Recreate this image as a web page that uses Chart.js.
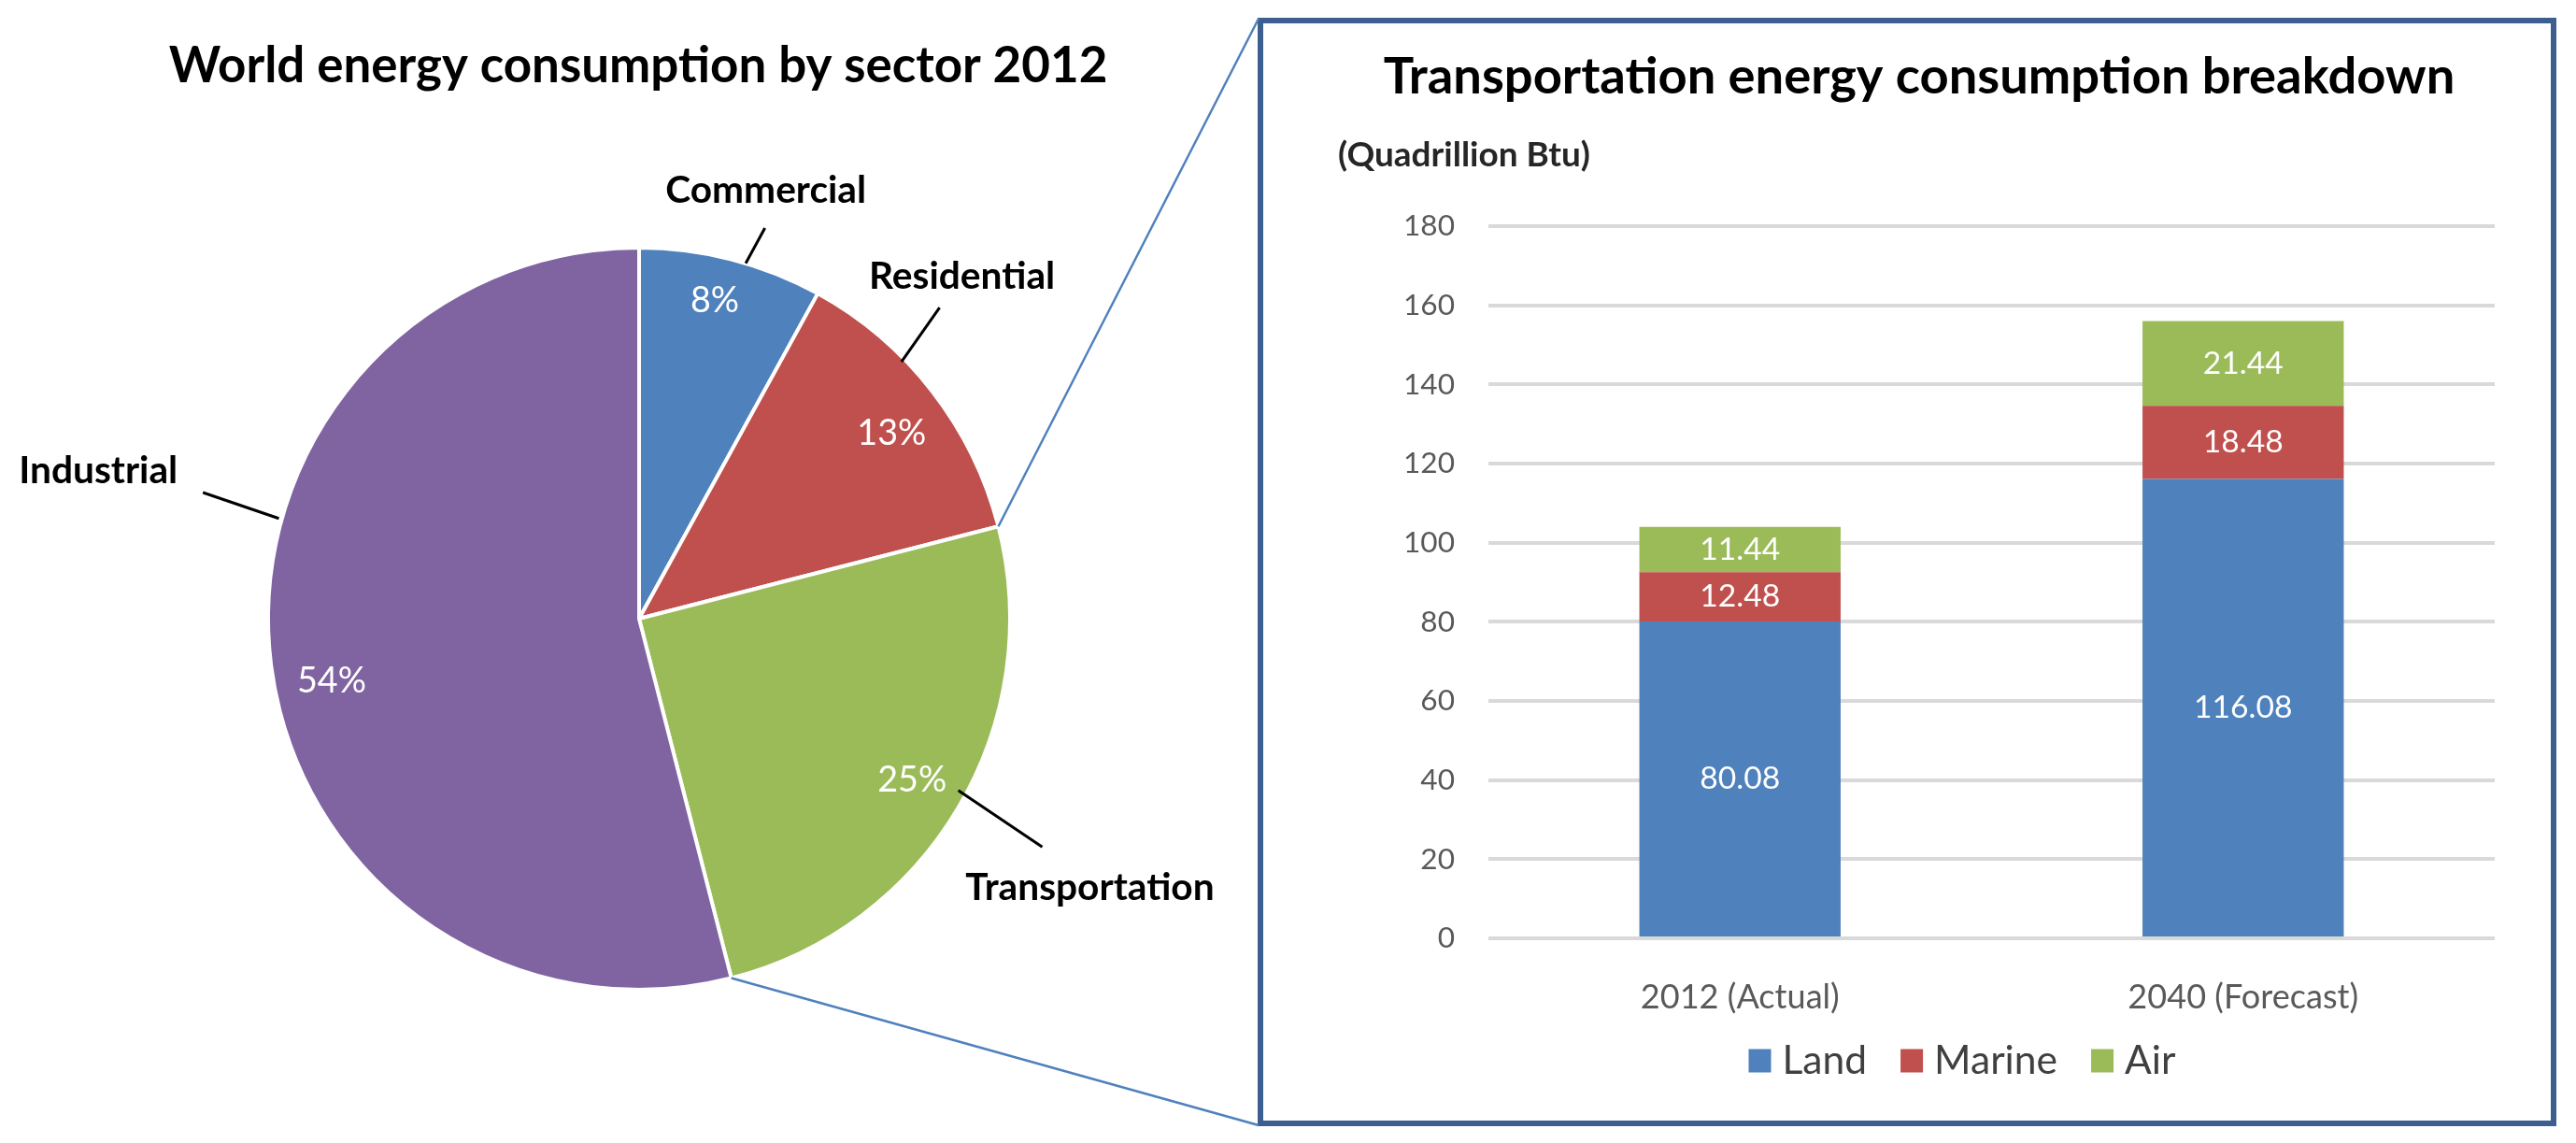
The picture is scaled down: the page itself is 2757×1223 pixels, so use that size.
<!DOCTYPE html>
<html>
<head>
<meta charset="utf-8">
<script src="https://cdn.jsdelivr.net/npm/chart.js@4.4.1/dist/chart.umd.min.js"></script>
<style>
html,body{margin:0;padding:0;background:#ffffff;overflow:hidden;}
#wrap{position:relative;width:2757px;height:1223px;background:#ffffff;}
canvas{position:absolute;left:0;top:0;}
#box{position:absolute;left:1346px;top:19px;width:1390px;height:1186px;border:6px solid #3C5F8F;box-sizing:border-box;}
</style>
</head>
<body>
<div id="wrap">
  <div id="box"></div>
  <canvas id="pie" width="2757" height="1223"></canvas>
  <canvas id="bar" width="2757" height="1223"></canvas>
</div>
<script>
// ---------------- DATA ----------------
const pieTitle = 'World energy consumption by sector 2012';
const sectorLabels = ['Commercial', 'Residential', 'Transportation', 'Industrial'];
const sectorShares = [8, 13, 25, 54];

const barTitle = 'Transportation energy consumption breakdown';
const unitLabel = '(Quadrillion Btu)';
const barCategories = ['2012 (Actual)', '2040 (Forecast)'];
const seriesNames = ['Land', 'Marine', 'Air'];
const landValues = [80.08, 116.08];
const marineValues = [12.48, 18.48];
const airValues = [11.44, 21.44];
const yTickValues = [0, 20, 40, 60, 80, 100, 120, 140, 160, 180];

// ---------------- STYLE ----------------
const FAMILY = 'Lato, "Open Sans", sans-serif';
const COLORS = { blue: '#4F81BD', red: '#C0504D', green: '#9BBB59', purple: '#8064A2' };
const sectorColors = [COLORS.blue, COLORS.red, COLORS.green, COLORS.purple];
const seriesColors = [COLORS.blue, COLORS.red, COLORS.green];

const mctx = document.createElement('canvas').getContext('2d');
function fitSize(text, weight, target) {
  mctx.font = weight + ' 100px ' + FAMILY;
  return 100 * target / mctx.measureText(text).width;
}
const SZ = {
  title: fitSize(pieTitle, 'bold', 1005),
  title2: fitSize(barTitle, 'bold', 1147),
  sector: fitSize('Commercial', 'bold', 215),
  pct: fitSize('13%', 'normal', 74),
  unit: fitSize(unitLabel, 'bold', 270),
  ytick: fitSize('180', 'normal', 55),
  xtick: fitSize('2012 (Actual)', 'normal', 213),
  value: fitSize('11.44', 'normal', 86),
  legend: fitSize('Marine', 'normal', 132)
};

// pie layout (relative to the arcs produced by Chart.js)
const PIE_R = 397;
const pctPos = [ {f: 0.88, da: -1.0}, {f: 0.845, da: 1.5}, {f: 0.855, da: 0}, {f: 0.846, da: -4.3} ];
const leaders = [
  {a0: 0.58, a1: 0.62, r0: 1.0, r1: 1.106, tx: 1, ty: -27},
  {a0: 0.359, a1: 0.325, r0: 0.99, r1: 1.166, tx: 24, ty: -20},
  {a0: 0.474, a1: 0.488, r0: 0.977, r1: 1.249, tx: 51, ty: 57},
  {a0: 0.617, a1: 0.620, r0: 1.008, r1: 1.224, tx: -112, ty: -10}
];
const BOX_CORNERS = { top: {x: 1347, y: 20}, bottom: {x: 1347, y: 1204} };

const piePlugin = {
  id: 'pieDecor',
  afterDraw(chart) {
    const ctx = chart.ctx;
    const arcs = chart.getDatasetMeta(0).data;
    ctx.save();
    // title
    ctx.fillStyle = '#000';
    ctx.font = 'bold ' + SZ.title + 'px ' + FAMILY;
    ctx.textAlign = 'center';
    ctx.textBaseline = 'alphabetic';
    ctx.fillText(pieTitle, 683, 88);

    arcs.forEach((a, i) => {
      const p = a.getProps(['x', 'y', 'startAngle', 'endAngle', 'outerRadius'], true);
      const R = p.outerRadius;
      const span = p.endAngle - p.startAngle;
      // percent label
      const mid = (p.startAngle + p.endAngle) / 2 + pctPos[i].da * Math.PI / 180;
      const rr = R * pctPos[i].f;
      ctx.fillStyle = '#ffffff';
      ctx.font = 'normal ' + SZ.pct + 'px ' + FAMILY;
      ctx.textAlign = 'center';
      ctx.textBaseline = 'middle';
      ctx.fillText(sectorShares[i] + '%', p.x + rr * Math.cos(mid), p.y + rr * Math.sin(mid));
      // leader line
      const L = leaders[i];
      const ang0 = p.startAngle + span * L.a0, ang1 = p.startAngle + span * L.a1;
      const x0 = p.x + R * L.r0 * Math.cos(ang0), y0 = p.y + R * L.r0 * Math.sin(ang0);
      const x1 = p.x + R * L.r1 * Math.cos(ang1), y1 = p.y + R * L.r1 * Math.sin(ang1);
      ctx.strokeStyle = '#000';
      ctx.lineWidth = 3;
      ctx.beginPath(); ctx.moveTo(x0, y0); ctx.lineTo(x1, y1); ctx.stroke();
      // category label
      ctx.fillStyle = '#000';
      ctx.font = 'bold ' + SZ.sector + 'px ' + FAMILY;
      ctx.textAlign = 'center';
      ctx.textBaseline = 'alphabetic';
      ctx.fillText(sectorLabels[i], x1 + L.tx, y1 + L.ty);
    });

    // connector lines to the zoomed box
    const a1 = arcs[1].getProps(['x', 'y', 'endAngle', 'outerRadius'], true);
    const a2 = arcs[2].getProps(['x', 'y', 'endAngle', 'outerRadius'], true);
    ctx.strokeStyle = '#4F81BD';
    ctx.lineWidth = 2.5;
    ctx.beginPath();
    ctx.moveTo(a1.x + a1.outerRadius * Math.cos(a1.endAngle), a1.y + a1.outerRadius * Math.sin(a1.endAngle));
    ctx.lineTo(BOX_CORNERS.top.x, BOX_CORNERS.top.y);
    ctx.moveTo(a2.x + a2.outerRadius * Math.cos(a2.endAngle), a2.y + a2.outerRadius * Math.sin(a2.endAngle));
    ctx.lineTo(BOX_CORNERS.bottom.x, BOX_CORNERS.bottom.y);
    ctx.stroke();
    ctx.restore();
  }
};

new Chart(document.getElementById('pie'), {
  type: 'pie',
  data: {
    labels: sectorLabels,
    datasets: [{
      data: sectorShares,
      backgroundColor: sectorColors,
      borderColor: '#ffffff',
      borderWidth: 4,
      hoverOffset: 0,
      offset: 0,
      radius: PIE_R
    }]
  },
  options: {
    responsive: false,
    animation: false,
    devicePixelRatio: 1,
    layout: { padding: { left: 284, right: 2757 - 1084, top: 262, bottom: 1223 - 1062 } },
    plugins: { legend: { display: false }, tooltip: { enabled: false } }
  },
  plugins: [piePlugin]
});

const barPlugin = {
  id: 'barDecor',
  afterDatasetsDraw(chart) {
    const ctx = chart.ctx;
    ctx.save();
    ctx.fillStyle = '#ffffff';
    ctx.font = 'normal ' + SZ.value + 'px ' + FAMILY;
    ctx.textAlign = 'center';
    ctx.textBaseline = 'middle';
    chart.data.datasets.forEach((ds, di) => {
      chart.getDatasetMeta(di).data.forEach((el, j) => {
        const p = el.getProps(['x', 'y', 'base'], true);
        ctx.fillText(ds.data[j].toFixed(2), p.x, (p.y + p.base) / 2);
      });
    });
    ctx.restore();
  },
  afterDraw(chart) {
    const ctx = chart.ctx;
    ctx.save();
    ctx.fillStyle = '#000';
    ctx.font = 'bold ' + SZ.title2 + 'px ' + FAMILY;
    ctx.textAlign = 'center';
    ctx.textBaseline = 'alphabetic';
    ctx.fillText(barTitle, 2054, 100);
    ctx.fillStyle = '#262626';
    ctx.font = 'bold ' + SZ.unit + 'px ' + FAMILY;
    ctx.textAlign = 'left';
    ctx.fillText(unitLabel, 1432, 178);
    // legend
    ctx.font = 'normal ' + SZ.legend + 'px ' + FAMILY;
    const boxW = 24, boxH = 25, gapIn = 12, gapOut = 36;
    const items = chart.data.datasets.map(ds => ({ label: ds.label, color: ds.backgroundColor, w: ctx.measureText(ds.label).width }));
    let total = 0;
    items.forEach((it, i) => { total += boxW + gapIn + it.w + (i < items.length - 1 ? gapOut : 0); });
    let x = 2100 - total / 2;
    const cy = 1135;
    ctx.textBaseline = 'middle';
    items.forEach(it => {
      ctx.fillStyle = it.color;
      ctx.fillRect(x, cy - boxH / 2, boxW, boxH);
      x += boxW + gapIn;
      ctx.fillStyle = '#404040';
      ctx.fillText(it.label, x, cy);
      x += it.w + gapOut;
    });
    ctx.restore();
  }
};

new Chart(document.getElementById('bar'), {
  type: 'bar',
  data: {
    labels: barCategories,
    datasets: [
      { label: seriesNames[0], data: landValues, backgroundColor: seriesColors[0] },
      { label: seriesNames[1], data: marineValues, backgroundColor: seriesColors[1] },
      { label: seriesNames[2], data: airValues, backgroundColor: seriesColors[2] }
    ]
  },
  options: {
    responsive: false,
    animation: false,
    devicePixelRatio: 1,
    layout: { padding: { left: 1400, right: 2757 - 2670, top: 242, bottom: 0 } },
    datasets: { bar: { barPercentage: 0.4, categoryPercentage: 1.0 } },
    scales: {
      x: {
        stacked: true,
        grid: { display: false },
        border: { display: false },
        ticks: { padding: 34, color: '#595959', font: { family: FAMILY, size: SZ.xtick } },
        afterFit(s) { s.height = 219; }
      },
      y: {
        stacked: true,
        min: 0,
        max: 180,
        afterBuildTicks(s) { s.ticks = yTickValues.map(v => ({ value: v })); },
        grid: { color: '#D9D9D9', lineWidth: 4, drawTicks: false },
        border: { display: false },
        ticks: { padding: 36, color: '#595959', font: { family: FAMILY, size: SZ.ytick } },
        afterFit(s) { s.width = 193; }
      }
    },
    plugins: { legend: { display: false }, tooltip: { enabled: false } }
  },
  plugins: [barPlugin]
});
</script>
</body>
</html>
